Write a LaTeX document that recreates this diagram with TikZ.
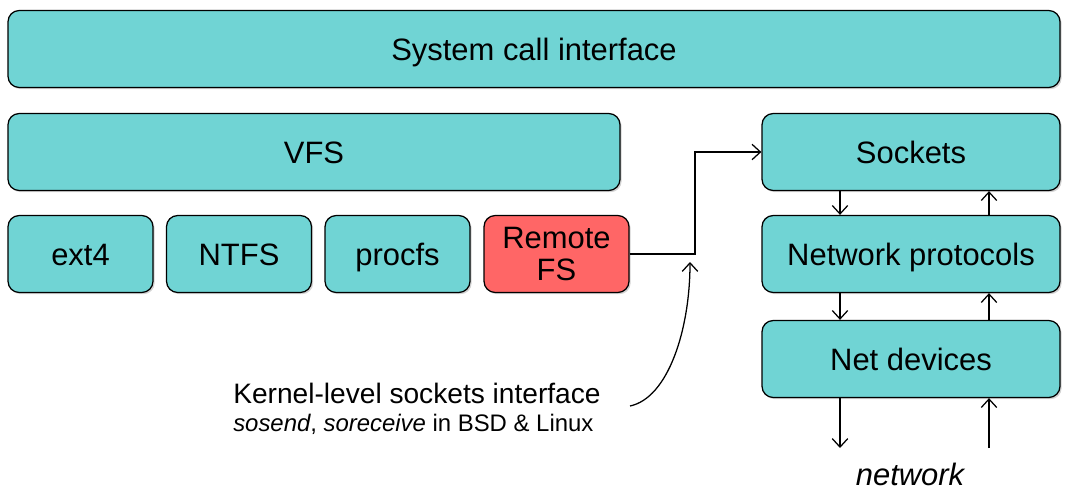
\documentclass[tikz,border=0pt]{standalone}
\usepackage{fontspec}
\setmainfont{Liberation Sans}
\usetikzlibrary{arrows.meta,shadows}

\definecolor{layer}{RGB}{112,212,212}
\definecolor{remote}{RGB}{255,102,102}

\tikzset{
  layerbox/.style={draw=black, line width=0.9pt, rounded corners=8pt, fill=layer,
    drop shadow={shadow xshift=1.2pt, shadow yshift=-1.2pt, opacity=0.35},
    minimum height=77*0.025cm, inner sep=0pt,
    font=\fontsize{22}{23}\selectfont},
  oneline/.style={text height=15.8pt, text depth=0pt},
  arr/.style={line width=0.9pt, -{Straight Barb[length=6pt,width=11pt]}}
}

\begin{document}
\begin{tikzpicture}[x=0.025cm, y=-0.025cm]
  \useasboundingbox (0,0) rectangle (1066,493);

  % top layers
  \node[layerbox, oneline, minimum width=1052*0.025cm] (syscall) at (534,49) {System call interface};
  \node[layerbox, oneline, minimum width=612*0.025cm] (vfs) at (314,152) {VFS};

  % file systems
  \node[layerbox, oneline, minimum width=145*0.025cm] (ext) at (80.5,254) {ext4};
  \node[layerbox, oneline, minimum width=145*0.025cm] (ntfs) at (239,254) {NTFS};
  \node[layerbox, oneline, minimum width=145*0.025cm] (procfs) at (397.5,254) {procfs};
  \node[layerbox, align=center, fill=remote, minimum width=145*0.025cm] (remfs) at (556.5,254) {Remote\\FS};

  % network stack
  \node[layerbox, oneline, minimum width=298*0.025cm] (sockets) at (911,152) {Sockets};
  \node[layerbox, oneline, minimum width=298*0.025cm] (proto) at (911,254) {Network protocols};
  \node[layerbox, oneline, minimum width=298*0.025cm] (netdev) at (911,359) {Net devices};

  \node[font=\fontsize{22}{23}\selectfont\itshape] (net) at (910,474) {network};

  % remote fs goes through sockets
  \coordinate (bend) at (695,0);
  \draw[arr] (remfs.east) -- (remfs.east -| bend) |- (sockets.west);

  % kernel-level sockets note
  \node[anchor=west, align=left, inner sep=0pt, font=\fontsize{20}{20}\selectfont] (note) at (233,409)
    {Kernel-level sockets interface\\
     {\fontsize{17}{22}\selectfont\textit{sosend}, \textit{soreceive} in BSD \& Linux}};
  \coordinate (tail) at (630,406);
  \coordinate (hook) at (690,262);
  \draw[arr] (tail) .. controls (668,398) and (690,330) .. (hook);

  % down and up paths
  \coordinate (dn) at (840,0);
  \coordinate (up) at (989,0);
  \coordinate (out) at (840,448);
  \coordinate (in) at (989,448);
  \draw[arr] (sockets.south -| dn) -- (proto.north -| dn);
  \draw[arr] (proto.north -| up) -- (sockets.south -| up);
  \draw[arr] (proto.south -| dn) -- (netdev.north -| dn);
  \draw[arr] (netdev.north -| up) -- (proto.south -| up);
  \draw[arr] (netdev.south -| dn) -- (out);
  \draw[arr] (in) -- (netdev.south -| up);
\end{tikzpicture}
\end{document}
